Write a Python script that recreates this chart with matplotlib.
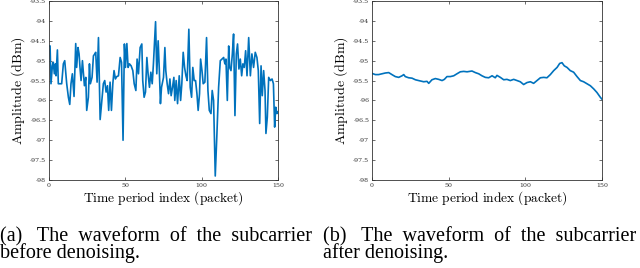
import matplotlib
matplotlib.use('Agg')
import matplotlib.pyplot as plt

plt.rcParams['mathtext.fontset'] = 'cm'
plt.rcParams['font.family'] = 'DejaVu Serif'

# (a) raw subcarrier amplitude
raw_idx = [0, 0.7, 1.3, 2.2, 2.8, 3.5, 4.2, 4.6, 5.5, 6.1,
           7.2, 8.3, 9.4, 10.3, 11.6, 12.7, 13.6, 14.4, 15.3, 16.4,
           17.5, 18.1, 19.0, 19.7, 20.3, 21.0, 21.9, 23.2, 24.1, 24.7,
           25.8, 26.5, 27.1, 28.2, 29.1, 30.0, 30.6, 31.5, 32.4, 33.5,
           34.6, 35.6, 36.5, 37.4, 38.3, 39.1, 40.0, 40.9, 41.8, 42.6,
           43.5, 44.4, 45.5, 46.6, 47.5, 48.5, 49.4, 50.1, 51.0, 51.8,
           52.7, 53.8, 54.9, 55.8, 56.9, 57.7, 58.6, 59.7, 60.8, 61.4,
           62.3, 63.2, 64.1, 64.9, 65.8, 66.7, 67.6, 68.4, 69.8, 70.6,
           71.5, 72.2, 73.0, 73.7, 75.0, 75.9, 76.5, 77.4, 78.3, 79.2,
           80.0, 80.9, 81.8, 82.4, 83.3, 84.2, 85.3, 86.2, 87.0, 87.9,
           88.8, 89.7, 90.5, 91.6, 92.5, 93.4, 94.2, 95.1, 96.0, 96.9,
           97.7, 98.6, 99.3, 100.2, 101.0, 102.1, 103.2, 104.1, 105.0, 106.1,
           106.9, 107.8, 108.9, 110.0, 111.1, 112.2, 113.3, 114.4, 115.2, 115.9,
           116.8, 117.7, 118.3, 119.2, 120.1, 120.9, 121.8, 122.7, 123.5, 124.4,
           125.3, 126.2, 127.0, 127.9, 128.8, 129.7, 130.8, 131.9, 132.9, 134.0,
           135.1, 136.2, 137.1, 138.0, 138.9, 139.7, 140.6, 141.5, 142.1, 143.0,
           143.9, 145.0, 146.1, 147.0, 147.8, 148.5, 149.3, 150]
raw_amp = [-94.63, -94.63, -95.58, -95.13, -95.04, -95.33, -95.08, -95.38, -94.73, -95.58,
           -95.58, -95.58, -95.08, -95.00, -95.58, -95.92, -96.10, -95.58, -95.33, -95.90,
           -94.57, -95.17, -94.67, -94.83, -95.17, -95.50, -95.00, -95.63, -95.42, -96.25,
           -95.92, -95.08, -95.58, -95.42, -94.88, -94.83, -94.79, -95.54, -94.42, -96.48,
           -96.00, -95.58, -95.50, -95.79, -95.63, -96.25, -95.54, -96.25, -95.58, -95.25,
           -95.46, -95.40, -95.38, -94.92, -95.04, -97.00, -94.58, -95.17, -94.57, -95.17,
           -95.08, -95.13, -95.25, -95.58, -95.75, -94.96, -95.33, -94.67, -94.58, -95.50,
           -95.92, -95.79, -94.92, -95.33, -95.67, -95.29, -95.58, -95.08, -94.02, -95.33,
           -94.50, -95.17, -96.08, -95.67, -95.42, -94.67, -95.25, -95.58, -95.83, -95.46,
           -95.88, -95.67, -95.42, -96.00, -95.50, -96.08, -95.38, -96.00, -95.58, -94.79,
           -95.17, -95.38, -95.50, -94.21, -95.67, -95.92, -95.17, -95.50, -95.50, -95.83,
           -96.25, -95.83, -94.96, -95.25, -95.58, -95.54, -94.42, -95.75, -96.25, -96.33,
           -95.75, -96.00, -97.90, -96.83, -95.67, -95.00, -94.96, -94.92, -95.08, -94.96,
           -96.00, -94.63, -95.17, -95.25, -94.83, -94.33, -96.38, -94.83, -94.58, -95.21,
           -94.96, -95.38, -95.08, -95.17, -94.75, -95.38, -94.42, -95.38, -94.83, -95.17,
           -94.79, -94.92, -95.25, -96.58, -95.13, -95.88, -95.25, -95.75, -96.83, -96.42,
           -95.42, -95.50, -95.46, -95.58, -96.67, -96.17, -96.33, -96.29]

# (b) denoised amplitude
den_idx = [0, 2.2, 4.3, 6.5, 8.7, 10.9, 13.0, 15.2, 17.4, 19.6,
           20.7, 21.7, 23.9, 26.1, 28.3, 30.4, 33.7, 35.9, 37.0, 39.1,
           41.3, 43.5, 45.7, 47.2, 48.9, 51.1, 53.3, 55.4, 57.6, 59.8,
           62.0, 65.2, 67.4, 69.6, 71.7, 73.9, 76.1, 78.3, 80.4, 81.5,
           83.7, 85.9, 88.0, 90.2, 92.4, 94.6, 96.7, 98.9, 101.1, 103.3,
           105.4, 107.6, 109.8, 112.0, 114.1, 116.3, 118.5, 120.7, 122.4, 123.9,
           125.4, 127.2, 129.3, 131.5, 133.7, 135.9, 138.0, 140.2, 142.4, 144.6,
           146.7, 148.9, 150]
den_amp = [-95.32, -95.35, -95.35, -95.33, -95.31, -95.30, -95.35, -95.40, -95.42, -95.38,
           -95.35, -95.40, -95.43, -95.44, -95.48, -95.50, -95.53, -95.52, -95.57, -95.48,
           -95.45, -95.47, -95.50, -95.47, -95.40, -95.40, -95.38, -95.33, -95.28, -95.27,
           -95.28, -95.26, -95.30, -95.33, -95.38, -95.42, -95.43, -95.38, -95.43, -95.37,
           -95.42, -95.48, -95.47, -95.50, -95.47, -95.50, -95.53, -95.60, -95.55, -95.53,
           -95.57, -95.50, -95.43, -95.42, -95.43, -95.35, -95.25, -95.17, -95.07, -95.05,
           -95.13, -95.17, -95.25, -95.29, -95.40, -95.50, -95.53, -95.58, -95.63, -95.71,
           -95.80, -95.92, -95.97]

yticks = [-98, -97.5, -97, -96.5, -96, -95.5, -95, -94.5, -94, -93.5]
ytick_labels = ['-98', '-97.5', '-97', '-96.5', '-96', '-95.5', '-95', '-94.5', '-94', '-93.5']
xticks = [0, 50, 100, 150]
cap_first = ['(a) The waveform of the subcarrier', '(b) The waveform of the subcarrier']
cap_second = ['before denoising.', 'after denoising.']

W, H = 640, 268
fig = plt.figure(figsize=(6.4, 2.68), dpi=100)
ax1 = fig.add_axes([49/W, 1 - 180/H, 229/W, 179/H])
ax2 = fig.add_axes([372/W, 1 - 180/H, 230/W, 179/H])

cap_font = dict(family='Liberation Serif', fontsize=14.5)
renderer = fig.canvas.get_renderer()

def text_width(s):
    t = fig.text(0, 0, s, **cap_font)
    w = t.get_window_extent(renderer).width
    t.remove()
    return w

def justify(text, target):
    # widen the gaps with extra spaces while the line stays within target px
    words = text.split()
    counts = [1] * (len(words) - 1)
    space = text_width('a a') - text_width('aa')
    build = lambda: ''.join(w + ' ' * c for w, c in zip(words, counts + [0]))
    k = 0
    while text_width(build()) + space <= target:
        counts[k % len(counts)] += 1
        k += 1
    return build()

for ax, xs, ys in [(ax1, raw_idx, raw_amp), (ax2, den_idx, den_amp)]:
    ax.plot(xs, ys, color='#0072BD', lw=1.2)
    ax.set_xlim(0, 150)
    ax.set_ylim(-98, -93.5)
    ax.set_xticks(xticks)
    ax.set_xticklabels([str(t) for t in xticks])
    ax.set_yticks(yticks)
    ax.set_yticklabels(ytick_labels)
    ax.tick_params(direction='in', length=2, width=0.5, labelsize=4.5,
                   top=True, right=True, colors='#333333', pad=2)
    for s in ax.spines.values():
        s.set_linewidth(0.6)
        s.set_color('#333333')
    ax.set_xlabel(r'$\mathrm{Time\ period\ index\ (packet)}$', fontsize=9.7, labelpad=1)
    ax.set_ylabel(r'$\mathrm{Amplitude\ (dBm)}$', fontsize=10)
    ax.yaxis.set_label_coords(-22/229, 0.5)

for i, x0 in enumerate([0, 323]):
    cap = justify(cap_first[i], 316) + '\n' + cap_second[i]
    fig.text(x0/W, 1 - 227/H, cap, va='top', ha='left', linespacing=0.8, **cap_font)

fig.savefig('out.png', dpi=100)
